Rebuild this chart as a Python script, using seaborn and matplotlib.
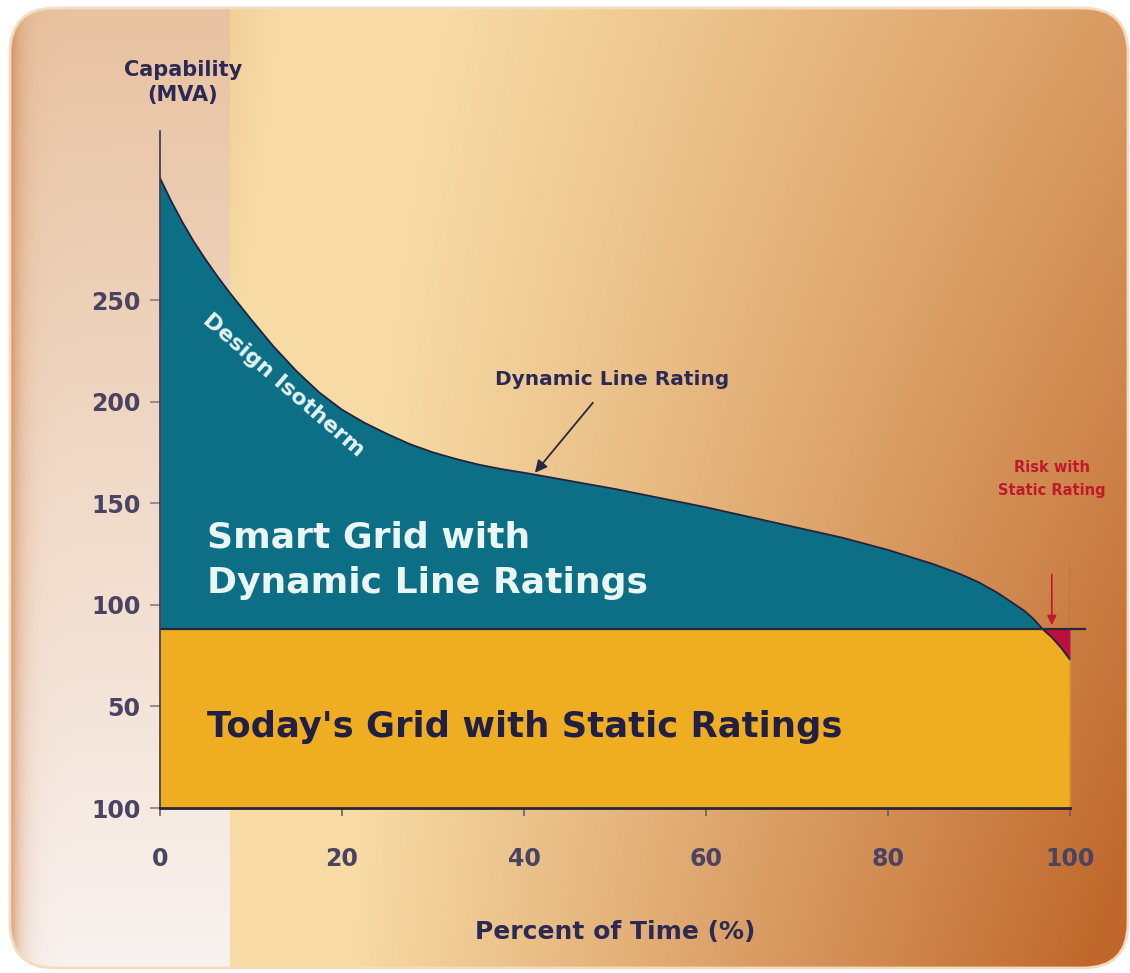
import numpy as np
import matplotlib.pyplot as plt
import seaborn as sns
from matplotlib.patches import FancyBboxPatch

# values
pct_time = [0, 1.25, 2.5, 3.75, 5, 6.25, 7.5, 10, 12.5, 15, 17.5, 20, 22.5, 25, 27.5, 30,
            32.5, 35, 37.5, 40, 45, 50, 55, 60, 65, 70, 75, 80, 85, 88, 90, 92, 94,
            95, 96, 97, 98, 99, 100]
dynamic_mva = [310, 298.5, 288, 278.5, 270, 262, 254.5, 240.5, 227, 215, 204.5, 196, 189.5,
               184, 179, 175, 171.8, 169, 166.8, 165, 161, 157, 152.5, 148, 143, 138,
               133, 127, 120, 115, 111, 106, 100, 97, 93, 88, 84, 79, 73]
static_mva = 88

x_ticks = [0, 20, 40, 60, 80, 100]
y_ticks = [0, 50, 100, 150, 200, 250]
y_tick_labels = ['100', '50', '100', '150', '200', '250']

sns.set_theme(style='white')
plt.rcParams['font.family'] = ['DejaVu Sans']
plt.rcParams['font.weight'] = 'bold'

navy = '#2c2a55'
tick_col = '#4a4462'
teal = '#0d6f86'
gold = '#efae22'
red = '#b8123c'

W, H = 1130, 973
fig = plt.figure(figsize=(W / 100, H / 100), dpi=100)
fig.patch.set_facecolor('white')

# ---- background panel (gradient) ----
bg = fig.add_axes([0, 0, 1, 1])
bg.set_xlim(0, W)
bg.set_ylim(H, 0)
bg.axis('off')

px, py = np.meshgrid(np.arange(W), np.arange(H))
u = px / W
v = py / H
pale = np.array([247, 218, 164]) / 255
dark = np.array([192, 104, 44]) / 255
t = (u - 0.42) * 0.95 + 0.6 * v * np.clip(u - 0.15, 0, 1)
t = t + 0.32 * np.exp(-np.clip(u - 0.2, 0, None) / 0.07) * (1 - v)
t = np.clip(t, 0, 1)
img = pale[None, None, :] * (1 - t[..., None]) + dark[None, None, :] * t[..., None]

# lighter strip on the left
strip = px < 230
s_top = np.array([232, 194, 160]) / 255
s_bot = np.array([249, 242, 240]) / 255
s_col = s_top[None, None, :] * (1 - v[..., None]) + s_bot[None, None, :] * v[..., None]
edge = np.exp(-(px - 10).clip(0) / 10.0)[..., None] * 0.7
edge_col = np.array([200, 120, 60]) / 255
s_col = s_col * (1 - edge) + edge_col * edge
img[strip] = s_col[strip]

im = bg.imshow(img, extent=(0, W, H, 0), aspect='auto', zorder=0)
frame = FancyBboxPatch((10, 8), 1118, 960, boxstyle='round,pad=0,rounding_size=45',
                       transform=bg.transData, facecolor='none', edgecolor='#f3dcc0', lw=2)
bg.add_patch(frame)
im.set_clip_path(frame)

# ---- chart axes ----
px_per_unit = 2.032
ymax = 340
ax = fig.add_axes([160 / W, 165 / H, 910 / W, ymax * px_per_unit / H])
ax.set_facecolor('none')
ax.set_xlim(0, 100)
ax.set_ylim(0, ymax)

x = np.array(pct_time)
y = np.array(dynamic_mva)

ax.fill_between(x, 0, np.minimum(y, static_mva), color=gold, lw=0, zorder=1)
ax.fill_between(x, static_mva, y, where=y >= static_mva, interpolate=True, color=teal, lw=0, zorder=1)
ax.fill_between(x, y, static_mva, where=y <= static_mva, interpolate=True, color=red, lw=0, zorder=1)
sns.lineplot(x=pct_time, y=dynamic_mva, ax=ax, color='#1d2340', lw=1.3, sort=False,
             estimator=None, zorder=3)
ax.hlines(static_mva, 0, 101.8, color='#2a2540', lw=1.6, zorder=4, clip_on=False)
ax.vlines(100, 0, 121, color='#6e6058', lw=1.0, zorder=4)

# spines and ticks
for side in ['top', 'right']:
    ax.spines[side].set_visible(False)
ax.spines['left'].set_bounds(0, 333)
ax.spines['left'].set_color('#3a3448')
ax.spines['left'].set_linewidth(1.2)
ax.spines['bottom'].set_color('#2a2438')
ax.spines['bottom'].set_linewidth(2)
ax.spines['left'].set_zorder(5)
ax.spines['bottom'].set_zorder(5)

ax.set_xticks(x_ticks)
ax.set_xticklabels([str(t) for t in x_ticks])
ax.set_yticks(y_ticks)
ax.set_yticklabels(y_tick_labels)
ax.tick_params(axis='x', direction='out', length=6, width=1.2, color='#6e6058', pad=22,
               labelsize=17, labelcolor=tick_col, bottom=True)
ax.tick_params(axis='y', direction='out', length=7, width=1.2, color='#8a7c80', pad=7,
               labelsize=17, labelcolor=tick_col, left=True)
ax.set_xlabel('')
ax.set_ylabel('')

# ---- labels and annotations ----
ax.text(2.5, 357, 'Capability\n(MVA)', ha='center', va='center', fontsize=15,
        color=navy, fontweight='bold', linespacing=1.3)
ax.text(50, -61, 'Percent of Time (%)', ha='center', va='center', fontsize=18,
        color=navy, fontweight='bold')

ax.text(5.2, 122, 'Smart Grid with\nDynamic Line Ratings', ha='left', va='center',
        fontsize=26, color='#eaf6f4', fontweight='bold', linespacing=1.45, zorder=6)
ax.text(5.2, 40, "Today's Grid with Static Ratings", ha='left', va='center',
        fontsize=25.5, color='#221f45', fontweight='bold', zorder=6)
ax.text(13.6, 208, 'Design Isotherm', ha='center', va='center', rotation=-41,
        fontsize=16, color='#e4f2f2', fontweight='bold', zorder=6)

ax.annotate('Dynamic Line Rating', xy=(41.2, 165), xytext=(49.7, 211),
            ha='center', va='center', fontsize=14.5, color=navy, fontweight='bold',
            arrowprops=dict(arrowstyle='-|>', color='#2a2540', lw=1.3,
                            shrinkA=10, shrinkB=0, mutation_scale=18), zorder=6)

ax.text(98, 162, 'Risk with\nStatic Rating', ha='center', va='center', fontsize=10.5,
        color='#c0182c', fontweight='bold', linespacing=1.65, zorder=6)
ax.annotate('', xy=(98, 90), xytext=(98, 115),
            arrowprops=dict(arrowstyle='-|>', color='#c0182c', lw=1.2,
                            shrinkA=0, shrinkB=0, mutation_scale=14), zorder=6)

fig.savefig('out.png', dpi=100)
